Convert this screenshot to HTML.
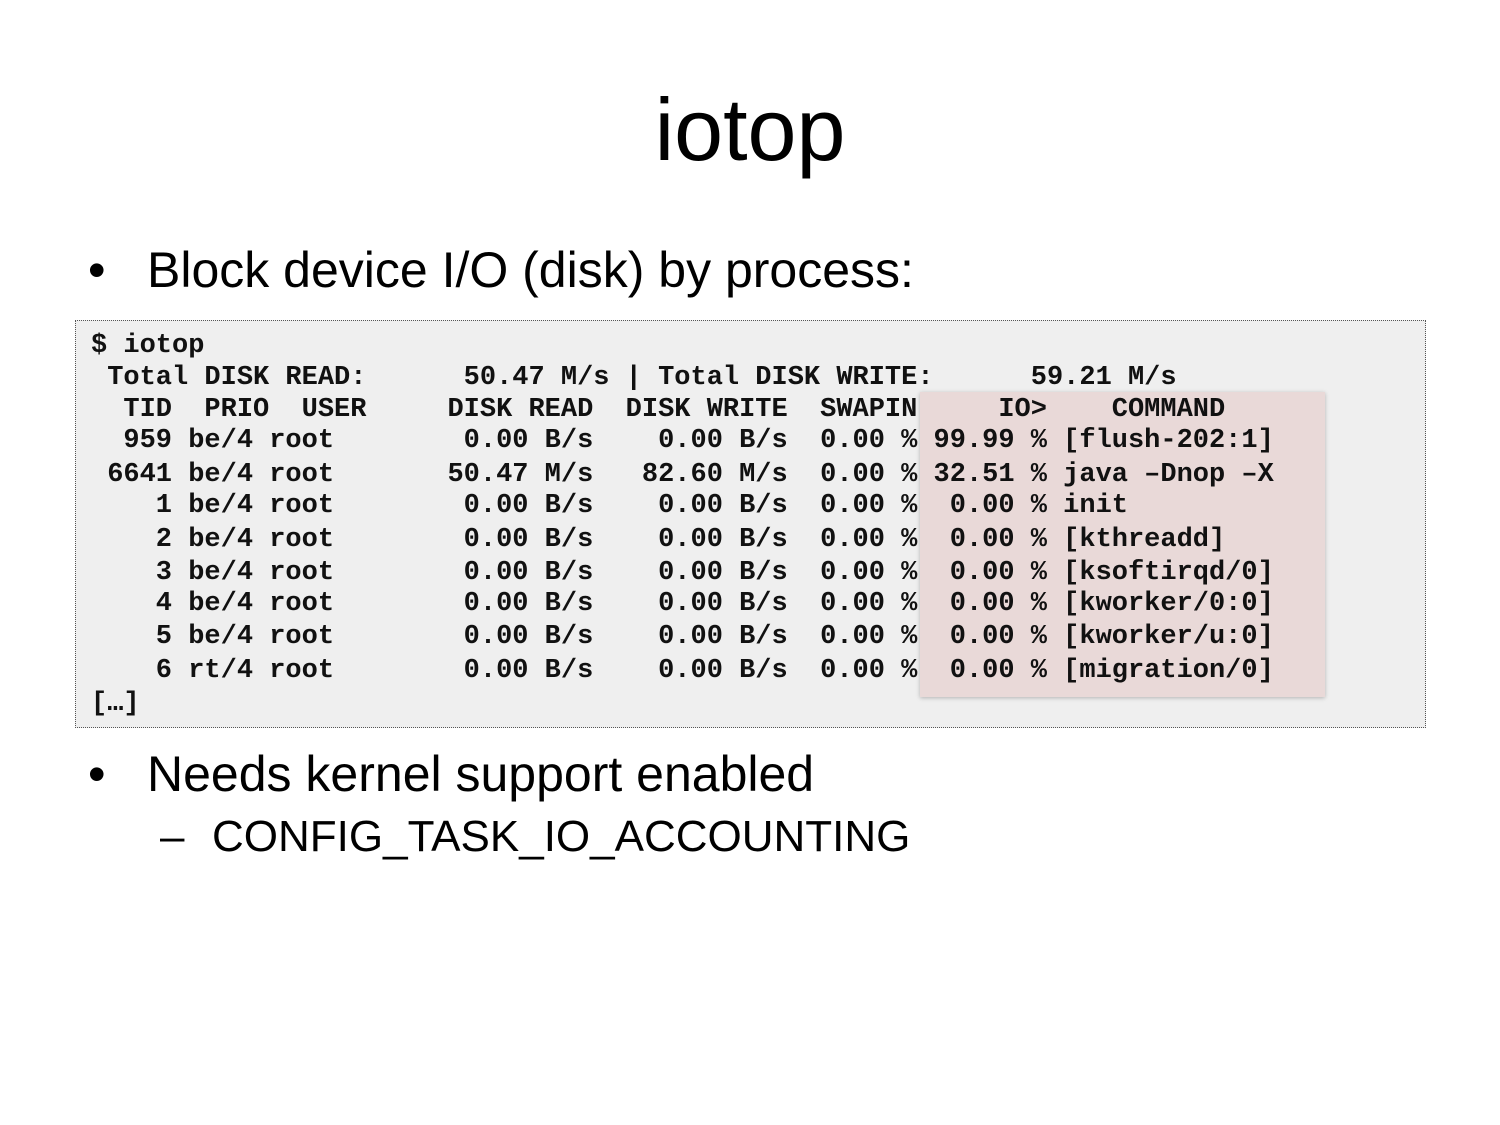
<!DOCTYPE html>
<html><head><meta charset="utf-8"><style>
body{margin:0;width:1500px;height:1125px;background:#fff;position:relative;overflow:hidden;font-family:"Liberation Sans",sans-serif;}
.t{position:absolute;white-space:pre;}
#title{left:0;width:1500px;text-align:center;top:80px;font-size:88px;line-height:100px;color:#000;}
.b{font-size:50px;line-height:56px;}
#box{position:absolute;left:75px;top:320px;width:1349px;height:406px;border:1px dotted #555;background:#efefef;}
#pink{position:absolute;left:920px;top:392px;width:405px;height:305px;background:#e9d9d8;box-shadow:0 1px 4px rgba(0,0,0,0.25);}
.m{position:absolute;left:91px;white-space:pre;font-family:"Liberation Mono",monospace;font-weight:bold;font-size:27px;line-height:28px;color:#111;}
</style></head><body>
<div class="t" id="title">iotop</div>
<div class="t b" style="left:88px;top:242px">•</div>
<div class="t b" style="left:147px;top:242px">Block device I/O (disk) by process:</div>
<div id="box"></div>
<div id="pink"></div>
<div class="m" style="top:332px">$ iotop</div>
<div class="m" style="top:364px"> Total DISK READ:      50.47 M/s | Total DISK WRITE:      59.21 M/s</div>
<div class="m" style="top:396px">  TID  PRIO  USER     DISK READ  DISK WRITE  SWAPIN     IO>    COMMAND</div>
<div class="m" style="top:427px">  959 be/4 root        0.00 B/s    0.00 B/s  0.00 % 99.99 % [flush-202:1]</div>
<div class="m" style="top:461px"> 6641 be/4 root       50.47 M/s   82.60 M/s  0.00 % 32.51 % java –Dnop –X</div>
<div class="m" style="top:492px">    1 be/4 root        0.00 B/s    0.00 B/s  0.00 %  0.00 % init</div>
<div class="m" style="top:526px">    2 be/4 root        0.00 B/s    0.00 B/s  0.00 %  0.00 % [kthreadd]</div>
<div class="m" style="top:559px">    3 be/4 root        0.00 B/s    0.00 B/s  0.00 %  0.00 % [ksoftirqd/0]</div>
<div class="m" style="top:590px">    4 be/4 root        0.00 B/s    0.00 B/s  0.00 %  0.00 % [kworker/0:0]</div>
<div class="m" style="top:623px">    5 be/4 root        0.00 B/s    0.00 B/s  0.00 %  0.00 % [kworker/u:0]</div>
<div class="m" style="top:657px">    6 rt/4 root        0.00 B/s    0.00 B/s  0.00 %  0.00 % [migration/0]</div>
<div class="m" style="top:690px">[…]</div>
<div class="t b" style="left:88px;top:746px">•</div>
<div class="t b" style="left:147px;top:746px">Needs kernel support enabled</div>
<div class="t" style="left:160px;top:812px;font-size:44px;line-height:50px">–</div>
<div class="t" style="left:212px;top:812px;font-size:44px;line-height:50px">CONFIG_TASK_IO_ACCOUNTING</div>
</body></html>
